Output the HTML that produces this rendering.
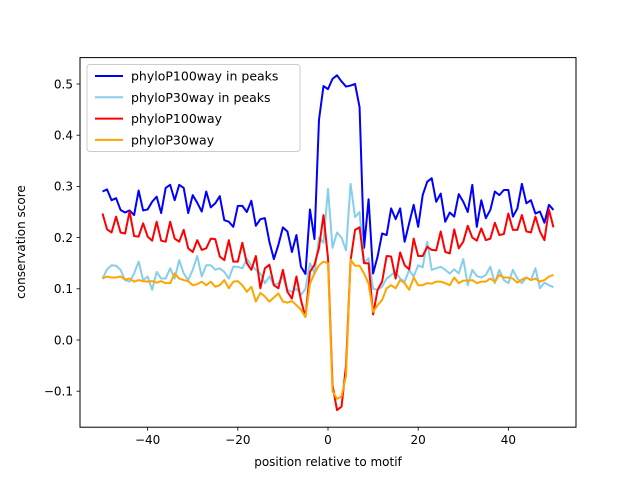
<!DOCTYPE html>
<html><head><meta charset="utf-8"><style>
html,body{margin:0;padding:0;background:#fff;}
svg{display:block;font-family:"DejaVu Sans","Liberation Sans",sans-serif;}
</style></head><body>
<svg id="chart" width="640" height="480" viewBox="0 0 640 480">
<rect x="0" y="0" width="640" height="480" fill="#fff"/>
<g id="plot"></g>
<rect x="80" y="57.6" width="496" height="369.6" fill="none" stroke="#000" stroke-width="1"/>
<g id="ticks"></g>
<text x="328" y="466" font-size="12" text-anchor="middle">position relative to motif</text>
<text x="25" y="242" font-size="12" text-anchor="middle" transform="rotate(-90 25 242)">conservation score</text>
<g id="legend"></g>
</svg>
<script>
const seriesNames = ["phyloP100way in peaks","phyloP30way in peaks","phyloP100way","phyloP30way"];
const seriesColors = ["#0000ff","#87ceeb","#ff0000","#ffa500"];
const xTicks = [-40,-20,0,20,40];
const yTicks = [-0.1,0.0,0.1,0.2,0.3,0.4,0.5];
const yTickLabels = ["−0.1","0.0","0.1","0.2","0.3","0.4","0.5"];
const xTickLabels = ["−40","−20","0","20","40"];
const blue = [0.29,0.294,0.273,0.277,0.254,0.249,0.253,0.244,0.292,0.253,0.255,0.27,0.28,0.248,0.297,0.303,0.273,0.303,0.297,0.248,0.283,0.268,0.251,0.29,0.259,
0.267,0.281,0.234,0.231,0.221,0.262,0.262,0.25,0.272,0.223,0.236,0.238,0.192,0.158,0.186,0.22,0.212,0.172,0.205,0.143,0.129,0.255,0.197,
0.43,0.496,0.49,0.51,0.517,0.505,0.495,0.497,0.5,0.455,0.18,0.275,0.13,0.163,
0.208,0.205,0.257,0.236,0.257,0.192,0.228,0.264,0.221,0.283,0.309,0.316,0.27,0.286,0.231,0.249,0.241,0.285,0.27,0.25,0.303,0.221,0.273,0.238,0.254,0.29,0.283,0.293,0.293,0.241,0.257,0.305,0.267,0.273,0.247,0.251,0.229,0.264,0.254];
const lightBlue = [0.12,0.138,0.146,0.145,0.137,0.117,0.114,0.13,0.153,0.117,0.124,0.098,0.133,0.12,0.12,0.14,0.12,0.156,0.13,0.117,0.137,0.164,0.124,0.146,0.146,
0.137,0.14,0.133,0.12,0.143,0.143,0.14,0.158,0.146,0.137,0.13,0.111,0.124,0.107,0.111,0.124,0.098,0.094,0.1,0.088,0.1,0.15,0.13,
0.2,0.19,0.295,0.18,0.21,0.2,0.175,0.305,0.24,0.25,0.15,0.16,0.1,0.098,
0.104,0.12,0.127,0.133,0.12,0.114,0.137,0.124,0.146,0.142,0.192,0.137,0.14,0.143,0.137,0.13,0.138,0.13,0.158,0.107,0.137,0.125,0.122,0.127,0.143,0.111,0.137,0.117,0.111,0.137,0.12,0.111,0.122,0.117,0.14,0.101,0.112,0.107,0.103];
const red = [0.247,0.216,0.21,0.241,0.21,0.208,0.251,0.203,0.202,0.228,0.202,0.194,0.231,0.194,0.192,0.231,0.198,0.192,0.215,0.179,0.172,0.195,0.176,0.179,0.198,
0.197,0.163,0.156,0.195,0.153,0.153,0.19,0.15,0.137,0.164,0.101,0.14,0.147,0.107,0.101,0.137,0.094,0.081,0.124,0.078,0.045,0.133,0.147,
0.18,0.244,0.16,-0.088,-0.137,-0.13,-0.05,0.155,0.215,0.22,0.15,0.15,0.05,0.098,
0.114,0.164,0.163,0.12,0.171,0.146,0.138,0.198,0.164,0.164,0.182,0.176,0.175,0.212,0.172,0.169,0.216,0.179,0.192,0.223,0.2,0.194,0.218,0.195,0.198,0.229,0.205,0.207,0.247,0.215,0.215,0.244,0.212,0.21,0.241,0.212,0.195,0.255,0.22];
const orange = [0.12,0.124,0.122,0.122,0.124,0.118,0.12,0.114,0.117,0.115,0.114,0.115,0.112,0.115,0.111,0.111,0.13,0.12,0.117,0.115,0.107,0.109,0.114,0.107,0.114,
0.104,0.107,0.117,0.101,0.114,0.115,0.107,0.094,0.104,0.075,0.092,0.085,0.075,0.083,0.091,0.075,0.073,0.076,0.068,0.059,0.045,0.11,0.13,
0.146,0.153,0.15,-0.1,-0.115,-0.11,-0.07,0.157,0.145,0.145,0.13,0.11,0.055,0.068,
0.078,0.101,0.107,0.101,0.117,0.111,0.098,0.122,0.107,0.107,0.111,0.11,0.114,0.114,0.111,0.107,0.122,0.111,0.116,0.116,0.117,0.111,0.114,0.114,0.12,0.114,0.127,0.122,0.122,0.12,0.112,0.118,0.122,0.117,0.12,0.114,0.117,0.124,0.127];
const xStart = -50;

const NS = "http://www.w3.org/2000/svg";
const X0 = 80, X1 = 576, Y0 = 57.6, Y1 = 427.2;
const xMin = -55, xMax = 55;
function xs(v){ return X0 + (v - xMin) / (xMax - xMin) * (X1 - X0); }
function ys(v){ return 340 - v * 512; }
function mk(tag, attrs, parent){ const e = document.createElementNS(NS, tag); for (const k in attrs) e.setAttribute(k, attrs[k]); parent.appendChild(e); return e; }

const plot = document.getElementById('plot');
const allSeries = [blue, lightBlue, red, orange];
const seriesKeys = ['line-phylop100way-peaks','line-phylop30way-peaks','line-phylop100way','line-phylop30way'];
allSeries.forEach((data, s) => {
  const pts = data.map((v, i) => xs(xStart + i).toFixed(2) + ',' + ys(v).toFixed(2)).join(' ');
  const pl = mk('polyline', {points: pts, fill: 'none', stroke: seriesColors[s], 'stroke-width': 2, 'stroke-linejoin': 'round'}, plot);
  
  
});

const ticks = document.getElementById('ticks');
xTicks.forEach((t, i) => {
  const x = xs(t);
  const tk = mk('line', {x1: x, x2: x, y1: Y1, y2: Y1 + 3.5, stroke: '#000', 'stroke-width': 0.8}, ticks);
  
  
  const lb = mk('text', {x: x, y: Y1 + 17, 'font-size': 12, 'text-anchor': 'middle'}, ticks);
  lb.textContent = xTickLabels[i];
  
  
});
yTicks.forEach((t, i) => {
  const y = ys(t);
  const tk = mk('line', {x1: X0 - 3.5, x2: X0, y1: y, y2: y, stroke: '#000', 'stroke-width': 0.8}, ticks);
  
  
  const lb = mk('text', {x: X0 - 7, y: y + 4.3, 'font-size': 12, 'text-anchor': 'end'}, ticks);
  lb.textContent = yTickLabels[i];
  
  
});

const legend = document.getElementById('legend');
const box = mk('rect', {x: 87, y: 64.5, width: 213, height: 87, rx: 3, fill: '#fff', 'fill-opacity': 0.8, stroke: '#ccc', 'stroke-width': 1}, legend);


seriesNames.forEach((n, i) => {
  const y = 76 + i * 21.3;
  const ln = mk('line', {x1: 95, x2: 123, y1: y, y2: y, stroke: seriesColors[i], 'stroke-width': 2}, legend);
  
  
  const tx = mk('text', {x: 131, y: y + 4.5, 'font-size': 12.5}, legend);
  tx.textContent = n;
  
  
});
</script>
</body></html>
